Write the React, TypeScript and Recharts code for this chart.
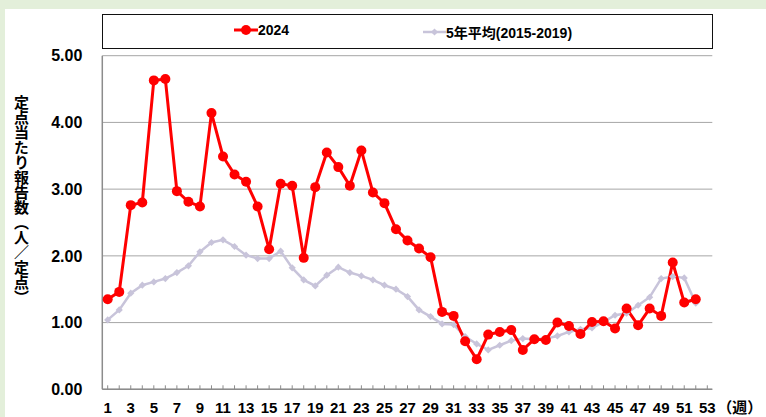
import { CartesianGrid, Line, LineChart, XAxis, YAxis } from "recharts";

const weeks = [
  1, 2, 3, 4, 5, 6, 7, 8, 9, 10, 11, 12, 13, 14, 15, 16, 17, 18, 19, 20, 21, 22, 23, 24, 25, 26,
  27, 28, 29, 30, 31, 32, 33, 34, 35, 36, 37, 38, 39, 40, 41, 42, 43, 44, 45, 46, 47, 48, 49, 50,
  51, 52, 53,
];

const rate2024 = [
  1.35, 1.46, 2.76, 2.8, 4.63, 4.65, 2.97, 2.81, 2.74, 4.14, 3.49, 3.22, 3.11, 2.74, 2.1, 3.08,
  3.05, 1.97, 3.03, 3.55, 3.33, 3.05, 3.58, 2.95, 2.79, 2.4, 2.23, 2.11, 1.98, 1.16, 1.1, 0.72,
  0.45, 0.82, 0.86, 0.89, 0.59, 0.75, 0.74, 1.0, 0.95, 0.83, 1.01, 1.02, 0.91, 1.21, 0.96, 1.21,
  1.1, 1.9, 1.3, 1.35, null,
];

const avg5yr = [
  1.04, 1.19, 1.44, 1.56, 1.61, 1.66, 1.75, 1.85, 2.06, 2.2, 2.24, 2.14, 2.01, 1.96, 1.96, 2.07,
  1.82, 1.64, 1.55, 1.71, 1.83, 1.75, 1.7, 1.64, 1.56, 1.5, 1.39, 1.19, 1.09, 0.98, 0.97, 0.79,
  0.68, 0.59, 0.66, 0.73, 0.76, 0.75, 0.76, 0.8, 0.86, 0.9, 0.92, 1.01, 1.11, 1.14, 1.26, 1.38,
  1.66, 1.69, 1.67, 1.29, null,
];

const yTicks = [0, 1, 2, 3, 4, 5];

const chartData = weeks.map((week, i) => ({
  week,
  rate2024: rate2024[i],
  avg5yr: avg5yr[i],
}));

const LATIN = '"Liberation Sans", Arial, sans-serif';
const CJK = '"Noto Sans CJK JP", sans-serif';
const RED = "#ff0000";
const LAVENDER = "#c8c4da";
const AXIS = "#8c8c8c";

function WeekTick(props: any) {
  const { x, y, payload } = props;
  const wk = Number(payload.value);
  return (
    <g>
      <line x1={x} x2={x} y1={y} y2={y - 4} stroke={AXIS} strokeWidth={1} />
      {wk % 2 === 1 && (
        <text
          x={x}
          y={y + 24}
          textAnchor="middle"
          fill="#000"
          fontSize={15}
          fontWeight={700}
          fontFamily={LATIN}
        >
          {wk}
        </text>
      )}
    </g>
  );
}

function Diamond(props: any) {
  const { cx, cy, index } = props;
  if (cx == null || cy == null) return <g key={index} />;
  const s = 3.6;
  return (
    <path
      key={index}
      d={`M${cx},${cy - s}L${cx + s},${cy}L${cx},${cy + s}L${cx - s},${cy}Z`}
      fill={LAVENDER}
    />
  );
}

function WeekUnit(props: any) {
  const vb = props.viewBox || {};
  const x = (vb.x ?? 102) + (vb.width ?? 610) + 5;
  const y = (vb.y ?? 389) + 24;
  return (
    <text x={x} y={y} fill="#000" fontSize={15} fontWeight={700} fontFamily={CJK}>
      （週）
    </text>
  );
}

function LegendBox() {
  const textStyle = {
    fontFamily: LATIN,
    fontSize: 14,
    fontWeight: 700,
    color: "#000",
  };
  return (
    <div
      style={{
        position: "absolute",
        left: 102,
        top: 14,
        width: 611,
        height: 35,
        border: "1.5px solid #111",
        boxSizing: "border-box",
        background: "#fff",
      }}
    >
      <div style={{ position: "absolute", left: 131, top: 7, display: "flex", alignItems: "center" }}>
        <svg width={24} height={14}>
          <line x1={0} x2={24} y1={7} y2={7} stroke={RED} strokeWidth={3} />
          <circle cx={12} cy={7} r={5} fill={RED} />
        </svg>
        <span style={textStyle}>2024</span>
      </div>
      <div style={{ position: "absolute", left: 320, top: 7, display: "flex", alignItems: "center" }}>
        <svg width={23} height={14}>
          <line x1={0} x2={23} y1={7} y2={7} stroke={LAVENDER} strokeWidth={2.5} />
          <path d="M11.5,3.4L15.1,7L11.5,10.6L7.9,7Z" fill={LAVENDER} />
        </svg>
        <span style={{ ...textStyle, fontFamily: `"Liberation Sans", ${CJK}` }}>
          5年平均(2015-2019)
        </span>
      </div>
    </div>
  );
}

export default function App() {
  return (
    <div
      style={{
        position: "absolute",
        left: 0,
        top: 0,
        width: 766,
        height: 417,
        background: "#e3efda",
        overflow: "hidden",
      }}
    >
      <div
        style={{ position: "absolute", left: 5, top: 9, right: 0, bottom: 0, background: "#fff" }}
      />
      <div
        style={{
          position: "absolute",
          left: 14,
          top: 95,
          width: 15,
          fontFamily: CJK,
          fontSize: 15,
          fontWeight: 700,
          lineHeight: 1,
          color: "#000",
          writingMode: "vertical-rl",
        }}
      >
        定点当たり報告数（人／定点）
      </div>
      <div style={{ position: "absolute", left: 0, top: 0 }}>
        <LineChart
          width={766}
          height={417}
          data={chartData}
          margin={{ top: 55.7, right: 53.7, bottom: 0, left: 0 }}
        >
          <CartesianGrid vertical={false} stroke="#a6a6a6" yAxisId="left" />
          <XAxis
            dataKey="week"
            type="category"
            interval={0}
            height={27.7}
            padding={{ left: 5.4, right: 5 }}
            tickLine={false}
            tickSize={0}
            tickMargin={0}
            tick={(p: any) => <WeekTick {...p} />}
            axisLine={{ stroke: AXIS, strokeWidth: 1.5 }}
            label={{ content: (p: any) => <WeekUnit {...p} /> }}
          />
          <YAxis
            yAxisId="left"
            width={102.3}
            domain={[0, 5]}
            ticks={yTicks}
            interval={0}
            tickFormatter={(v: number) => v.toFixed(2)}
            tickLine={false}
            tickSize={0}
            tickMargin={20}
            axisLine={{ stroke: AXIS, strokeWidth: 1.5 }}
            tick={{ fill: "#000", fontSize: 16, fontWeight: 700, fontFamily: LATIN }}
          />
          <YAxis
            yAxisId="right"
            orientation="right"
            width={0}
            domain={[0, 5]}
            tick={false}
            tickLine={false}
            axisLine={{ stroke: AXIS, strokeWidth: 1.5 }}
          />
          <Line
            yAxisId="left"
            dataKey="avg5yr"
            stroke={LAVENDER}
            strokeWidth={2.5}
            dot={(p: any) => <Diamond {...p} key={p.index} />}
            activeDot={false}
            isAnimationActive={false}
          />
          <Line
            yAxisId="left"
            dataKey="rate2024"
            stroke={RED}
            strokeWidth={3}
            dot={{ r: 5, fill: RED, stroke: RED, strokeWidth: 0 }}
            activeDot={false}
            isAnimationActive={false}
          />
        </LineChart>
      </div>
      <LegendBox />
    </div>
  );
}
